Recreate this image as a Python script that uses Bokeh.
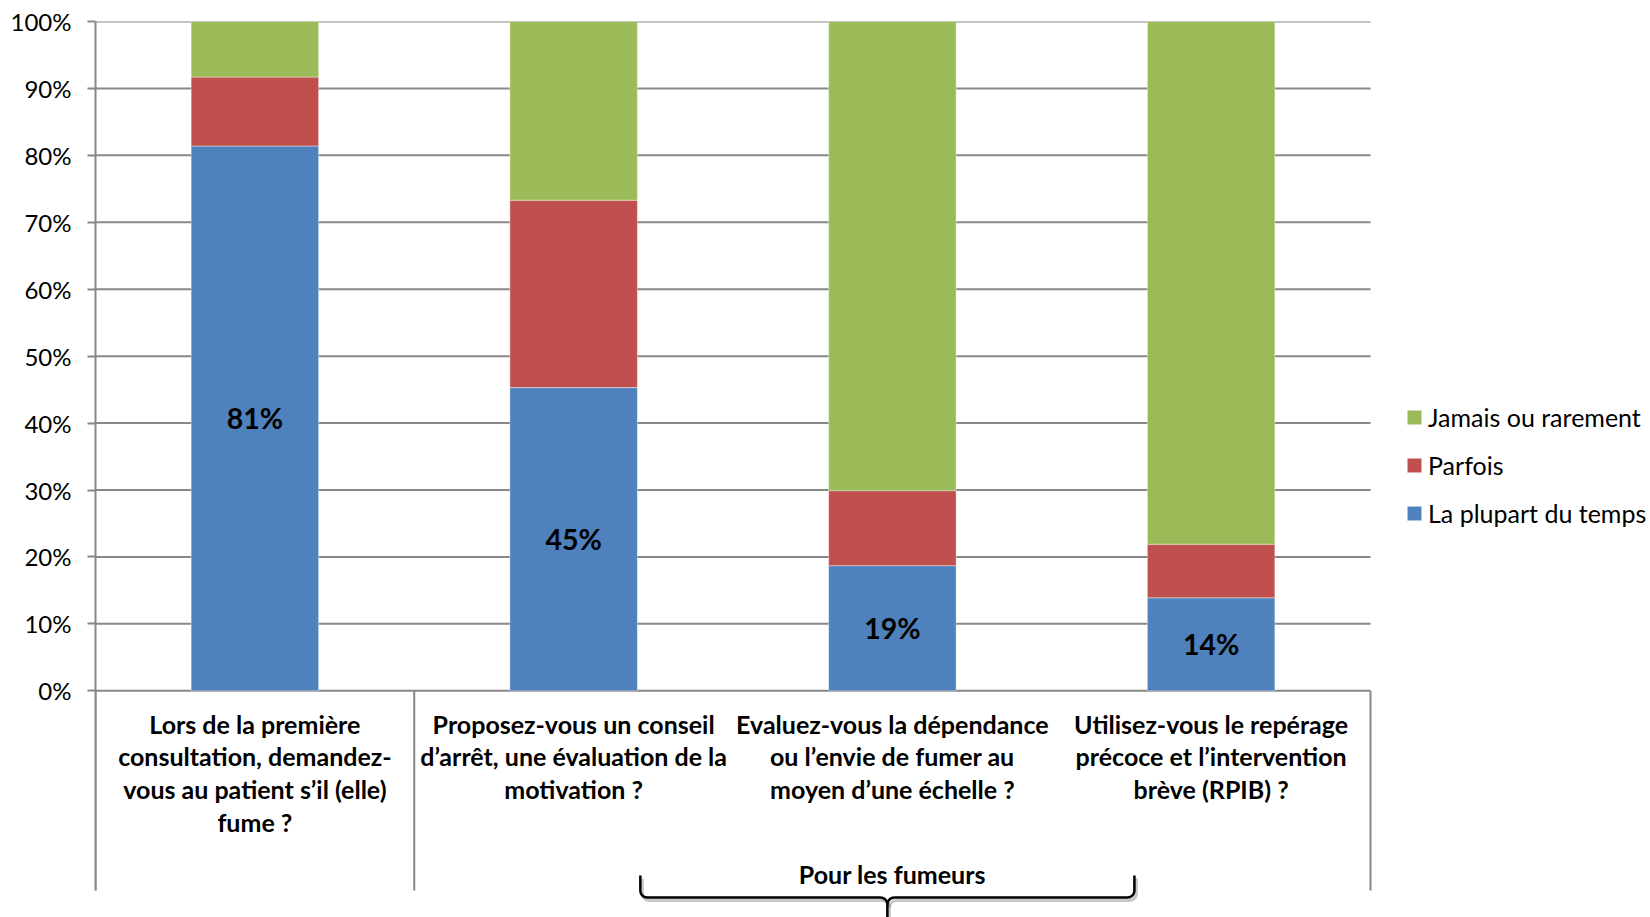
import math
from bokeh.plotting import figure
from bokeh.models import Range1d, FixedTicker, ColumnDataSource, Legend, LegendItem
from bokeh.core.properties import value
from bokeh.embed import file_html
from bokeh.resources import INLINE

# ---------------- data ----------------
categories = [
    "Lors de la première\nconsultation, demandez-\nvous au patient s’il (elle)\nfume ?",
    "Proposez-vous un conseil\nd’arrêt, une évaluation de la\nmotivation ?",
    "Evaluez-vous la dépendance\nou l’envie de fumer au\nmoyen d’une échelle ?",
    "Utilisez-vous le repérage\nprécoce et l’intervention\nbrève (RPIB) ?",
]
series_names = ["La plupart du temps", "Parfois", "Jamais ou rarement"]
plupart = [81.4, 45.3, 18.7, 13.9]
parfois = [10.3, 28.0, 11.2, 8.0]
jamais = [8.3, 26.7, 70.1, 78.1]
groups = ["", "Pour les fumeurs"]
group_sizes = [1, 3]
y_ticks = [0, 10, 20, 30, 40, 50, 60, 70, 80, 90, 100]
tick_labels = ["0%", "10%", "20%", "30%", "40%", "50%", "60%", "70%", "80%", "90%", "100%"]

colors = ["#4F81BD", "#C0504D", "#9BBB59"]
GRID = "#888888"
FONT = "Lato"

# ---------------- layout ----------------
W, H = 1650, 917
L, R, T, B0, BOT = 95, 1370, 21, 690.3, 917
n = len(categories)
ppx = (R - L) / n
ppy = (B0 - T) / 100.0
x_end = (W - L) / ppx
y_start = -(BOT - B0) / ppy
sep_bottom = -(890 - B0) / ppy

p = figure(width=W, height=H, output_backend="svg", toolbar_location=None,
           x_range=Range1d(0, x_end), y_range=Range1d(y_start, 100),
           x_axis_location=None, y_axis_location="left",
           min_border_left=L, min_border_right=0, min_border_top=T, min_border_bottom=0,
           outline_line_color=None, background_fill_color="white", border_fill_color="white")
p.xgrid.visible = False
p.ygrid.visible = False

# gridlines
p.segment(x0=0, x1=n, y0=y_ticks, y1=y_ticks, line_color=GRID, line_width=2)

# separators below the axis (group boundaries)
bounds = [0]
for s in group_sizes:
    bounds.append(bounds[-1] + s)
p.segment(x0=bounds, x1=bounds, y0=0, y1=sep_bottom, line_color=GRID, line_width=2)

# stacked bars
xs = [i + 0.5 for i in range(n)]
src = ColumnDataSource(dict(x=xs, plupart=plupart, parfois=parfois, jamais=jamais))
rs = p.vbar_stack(["plupart", "parfois", "jamais"], x="x", width=0.4, color=colors,
                  source=src, line_color="white", line_alpha=0.4, line_width=1)

# labels inside blue bars
p.text(x=xs, y=[v / 2 for v in plupart], text=[f"{round(v)}%" for v in plupart],
       text_align="center", text_baseline="middle", text_font=value(FONT),
       text_font_style="bold", text_font_size="28.5px", text_color="black")

# category labels
label_y = -(708 - B0) / ppy
p.text(x=xs, y=[label_y] * n, text=categories, text_align="center", text_baseline="top",
       text_font=value(FONT), text_font_style="bold", text_font_size="25px",
       text_line_height=1.09, text_color="black")

# brace for the group
gi = 1
gc = bounds[gi] + group_sizes[gi] / 2
bc = gc - 5 / ppx
half = 0.775
tip_y = -(875 - B0) / ppy
line_y = -(897 - B0) / ppy
rpx = 7
rx, ry = rpx / ppx, rpx / ppy


def arc(cx, cy, a0, a1, k=8):
    angs = [math.radians(a0 + (a1 - a0) * i / k) for i in range(k + 1)]
    return [cx + rx * math.cos(a) for a in angs], [cy + ry * math.sin(a) for a in angs]


def brace_side(sign):
    xt = bc + sign * half
    if sign < 0:
        ax_, ay_ = arc(xt + rx, line_y + ry, 180, 270)
        bx_, by_ = arc(bc - rx, line_y - ry, 90, 0)
    else:
        ax_, ay_ = arc(xt - rx, line_y + ry, 0, -90)
        bx_, by_ = arc(bc + rx, line_y - ry, 90, 180)
    px_ = [xt] + ax_ + bx_
    py_ = [tip_y] + ay_ + by_
    if sign < 0:
        px_.append(bc)
        py_.append(y_start)
    return px_, py_


lx, ly = brace_side(-1)
rx_, ry_ = brace_side(1)
dx, dy = 2 / ppx, -3 / ppy
p.multi_line(xs=[[v + dx for v in lx], [v + dx for v in rx_]],
             ys=[[v + dy for v in ly], [v + dy for v in ry_]],
             line_color="black", line_alpha=0.22, line_width=3)
p.multi_line(xs=[lx, rx_], ys=[ly, ry_], line_color="black", line_width=2.5)
p.text(x=[gc], y=[-(873 - B0) / ppy], text=[groups[gi]], text_align="center",
       text_baseline="middle", text_font=value(FONT), text_font_style="bold",
       text_font_size="25px", text_color="black")

# y axis
ax = p.yaxis[0]
ax.ticker = FixedTicker(ticks=y_ticks)
ax.major_label_overrides = {t: s for t, s in zip(y_ticks, tick_labels)}
ax.bounds = (sep_bottom, 100)
ax.axis_line_color = GRID
ax.axis_line_width = 2
ax.major_tick_line_color = GRID
ax.major_tick_line_width = 2
ax.major_tick_out = 8
ax.major_tick_in = 0
ax.minor_tick_line_color = None
ax.major_label_standoff = 16
ax.major_label_text_font = FONT
ax.major_label_text_font_size = "24px"
ax.major_label_text_color = "black"

# legend (reverse order, green on top)
items = [LegendItem(label=series_names[i], renderers=[rs[i]]) for i in reversed(range(3))]
legend = Legend(items=items, location=(1310, 389), glyph_width=18, glyph_height=18,
                label_standoff=5, spacing=18, padding=0, margin=0,
                border_line_color=None, background_fill_alpha=0,
                label_text_font=FONT, label_text_font_size="25px", label_text_color="black")
p.add_layout(legend)

open("out.html", "w").write(file_html(p, INLINE))
